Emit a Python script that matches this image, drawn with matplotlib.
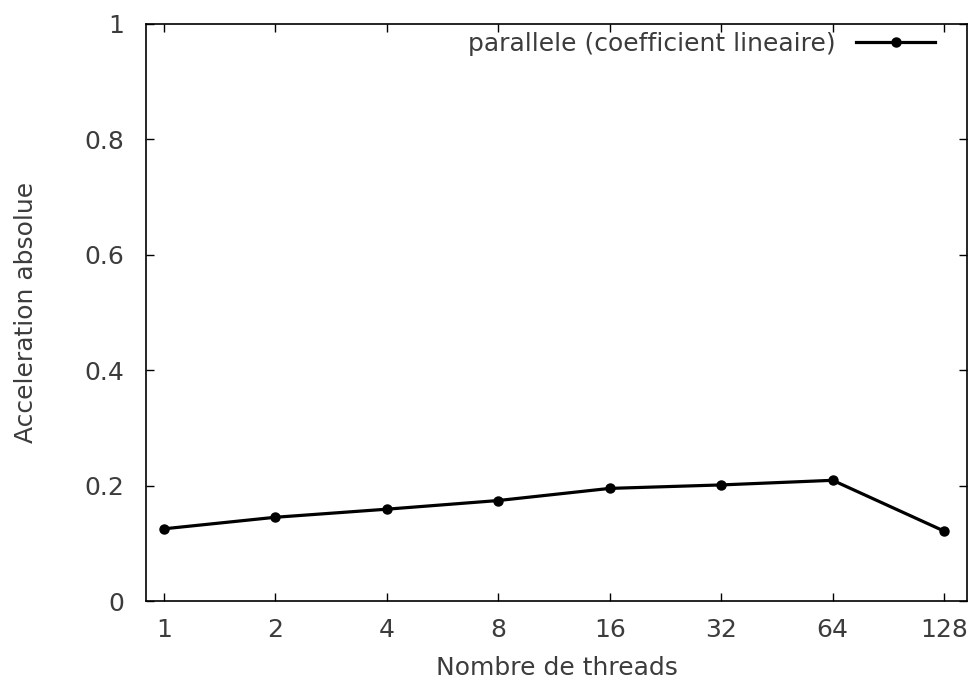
import numpy as np
import matplotlib
matplotlib.use("Agg")
import matplotlib.pyplot as plt

threads = [1, 2, 4, 8, 16, 32, 64, 128]
speedup = [0.125, 0.145, 0.159, 0.174, 0.195, 0.201, 0.209, 0.121]
y_ticks = [0, 0.2, 0.4, 0.6, 0.8, 1]
y_labels = ["0", "0.2", "0.4", "0.6", "0.8", "1"]

plt.rcParams["font.family"] = "DejaVu Sans"
txt = "#3c3c3c"

fig = plt.figure(figsize=(9.71, 6.92), dpi=100)
ax = fig.add_axes([0.1504, 0.1315, 0.9959 - 0.1504, 0.966 - 0.1315])

ax.plot(threads, speedup, color="black", lw=2.3, marker="o", ms=6.5,
        label="parallele (coefficient lineaire)")

ax.set_xscale("log", base=2)
ax.set_xlim(2 ** -0.16, 2 ** 7.205)
ax.set_ylim(0, 1)
ax.set_xticks(threads)
ax.set_xticklabels([str(t) for t in threads])
ax.minorticks_off()
ax.set_yticks(y_ticks)
ax.set_yticklabels(y_labels)

ax.tick_params(direction="in", length=6, width=1, top=True, right=True,
               labelsize=18, labelcolor=txt)
ax.tick_params(axis="x", pad=12)
ax.tick_params(axis="y", pad=16)
for s in ax.spines.values():
    s.set_linewidth(1.2)

ax.set_xlabel("Nombre de threads", fontsize=18, color=txt, labelpad=10)
ax.set_ylabel("Acceleration absolue", fontsize=18, color=txt, labelpad=33)

ax.legend(loc="center right", frameon=False, markerfirst=False, fontsize=18,
          handlelength=3.15, handletextpad=0.84, borderpad=0,
          borderaxespad=0, labelcolor=txt, bbox_to_anchor=(0.961, 0.9645))

fig.savefig("out.png", dpi=100)
